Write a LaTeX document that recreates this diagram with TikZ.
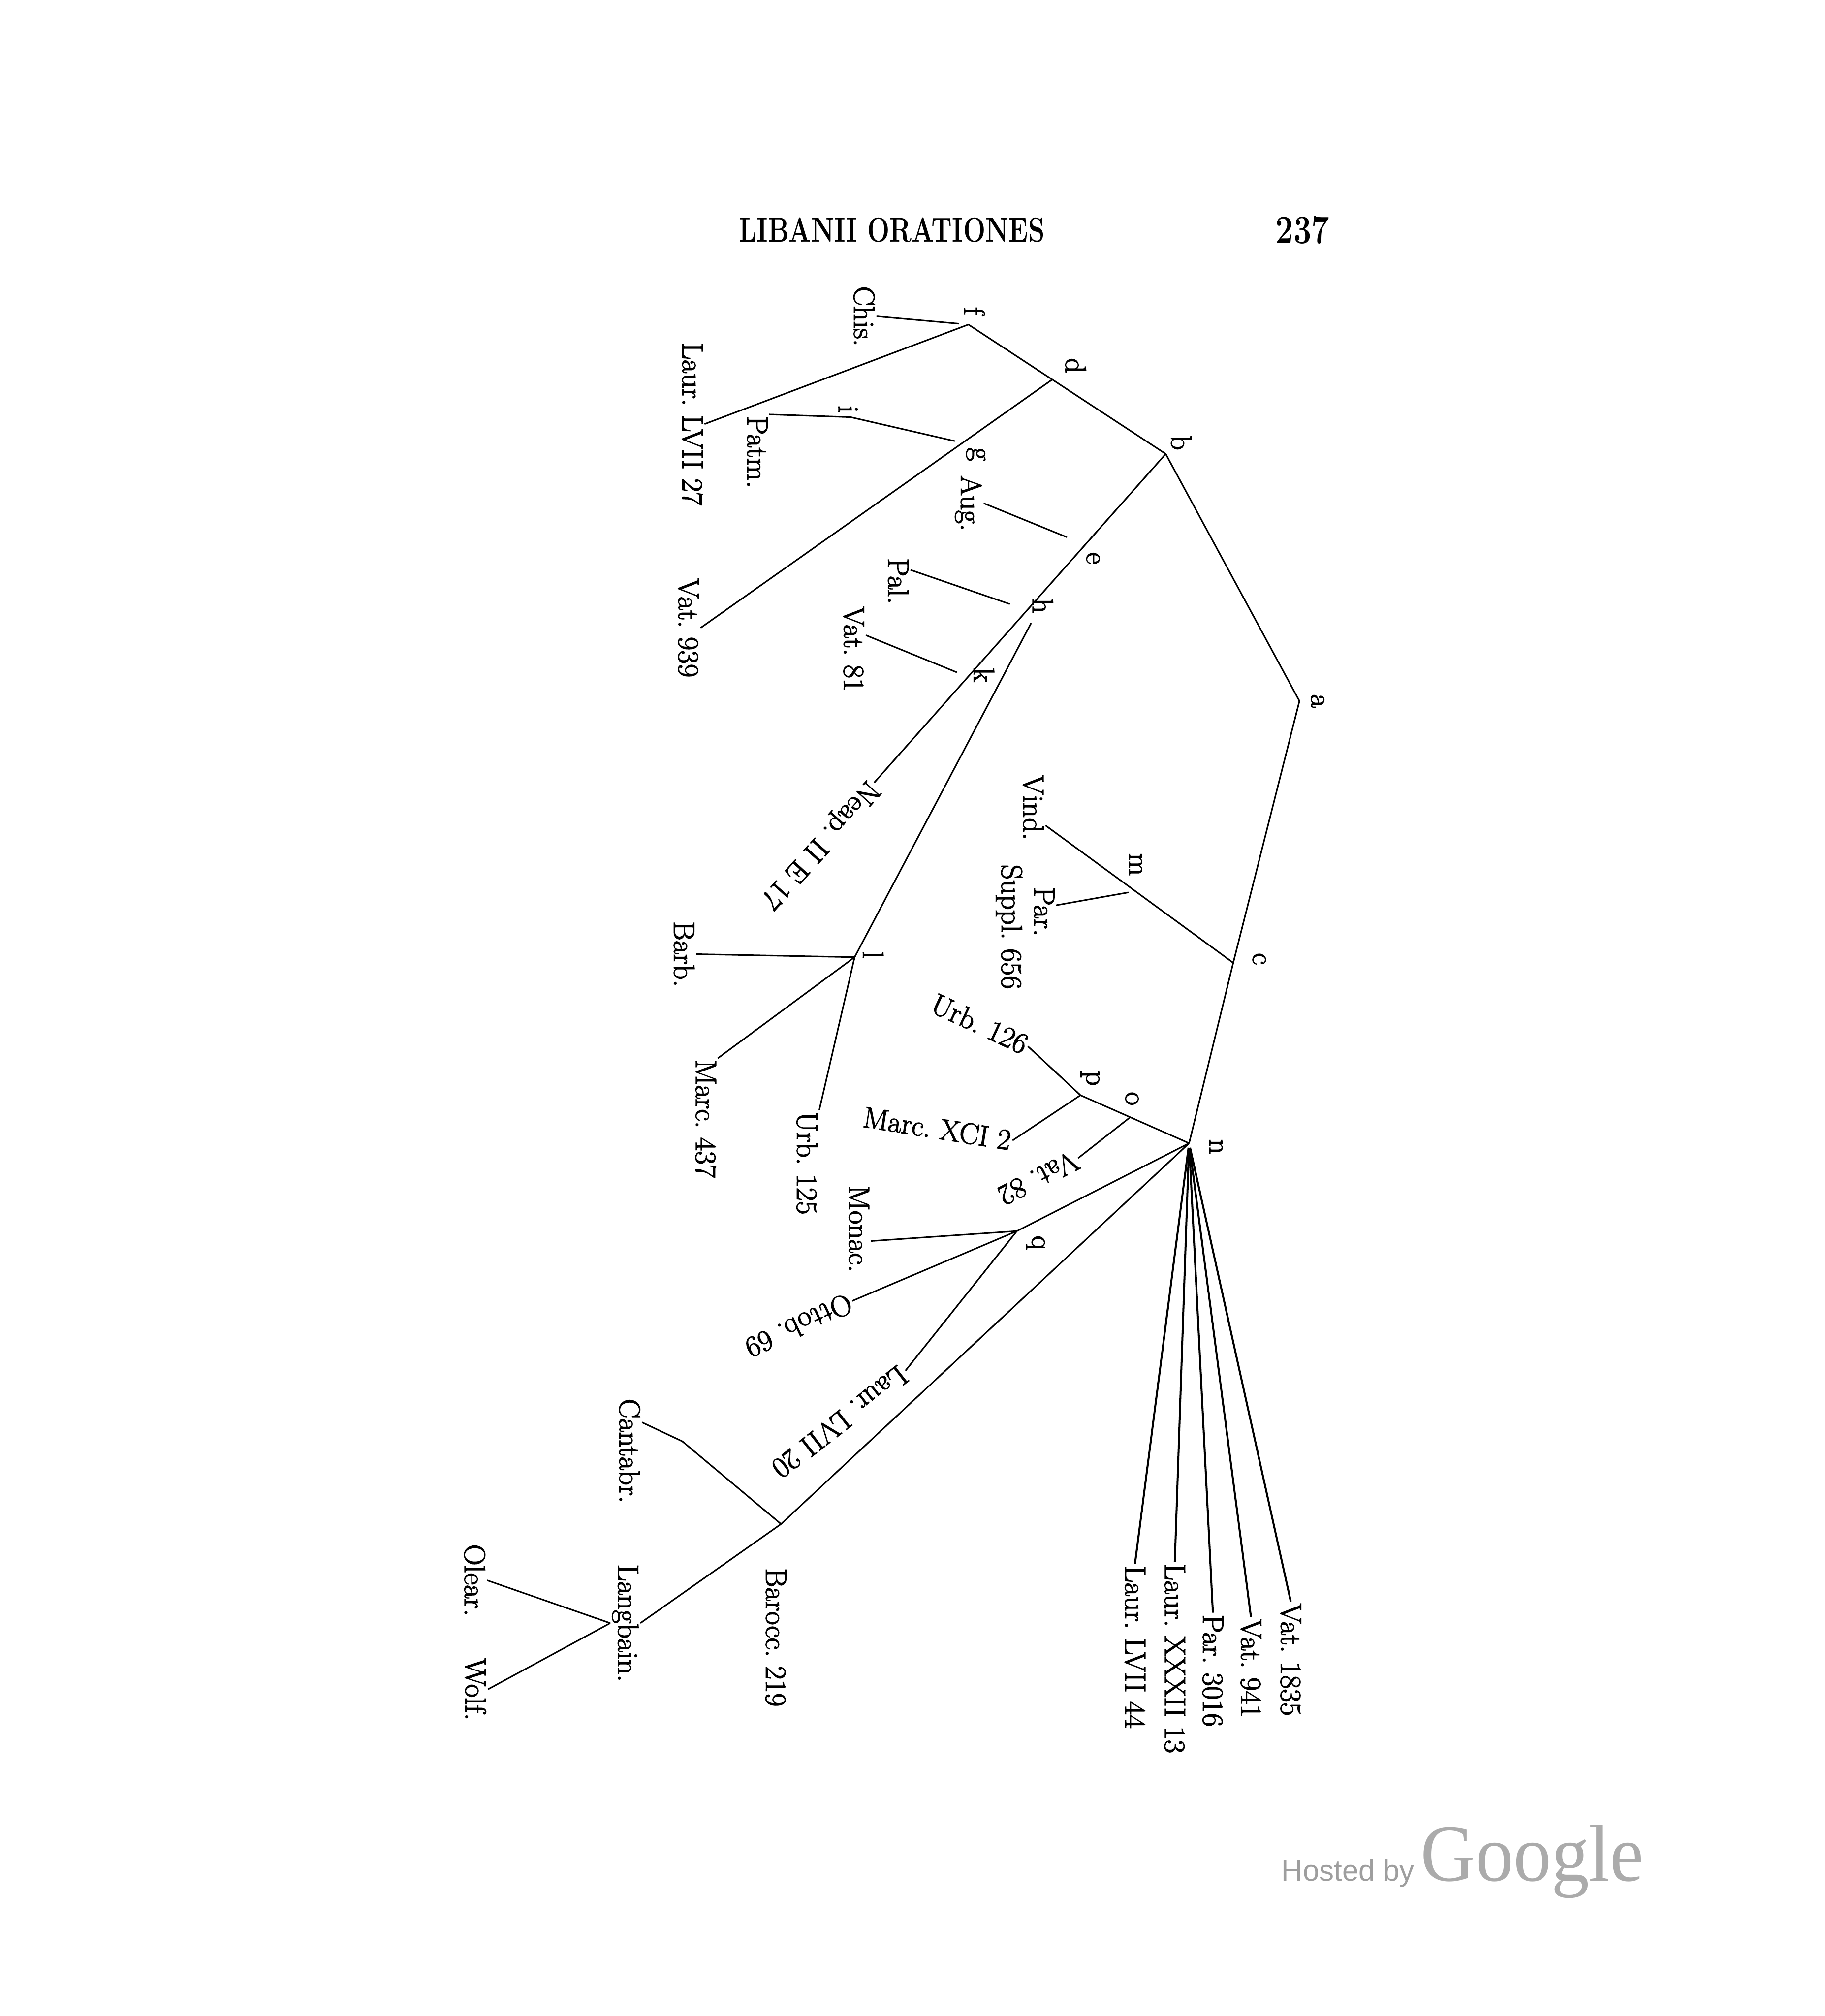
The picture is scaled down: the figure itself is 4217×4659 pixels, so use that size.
\documentclass[tikz,border=0pt]{standalone}
\usepackage{fontspec}
\usepackage{graphicx}
\usetikzlibrary{calc}
\newfontfamily\stemmafont[FakeBold=2.2]{Latin Modern Roman}
\newfontfamily\hostedfont{Liberation Sans}
\newfontfamily\googlefont[FakeStretch=0.94]{Liberation Serif}
\newcommand{\msfont}{\stemmafont\frenchspacing\fontsize{19.4}{23}\selectfont}
\tikzset{
    ms/.style={rotate=-90, font=\msfont, inner sep=1pt},
    hyp/.style={rotate=-90, font=\msfont, inner sep=0pt},
    slant/.style={font=\msfont, inner sep=1pt},
    stem/.style={line width=1pt},
    fan/.style={line width=1.3pt, shorten <=3pt}
}

\begin{document}
\begin{tikzpicture}[x=0.1mm, y=-0.1mm]
\useasboundingbox (0, 0) rectangle (4217, 4659);
% running head
\node[font=\bfseries\fontsize{22.8}{26}\selectfont] (head) at (2061, 531) {\scalebox{0.76}[1]{LIBANII ORATIONES}};
\node[font=\bfseries\fontsize{26.5}{30}\selectfont] (pageno) at (3010, 532) {\scalebox{0.79}[1]{237}};

% manuscripts
\node[ms] (chis) at (1997, 731) {Chis.};
\node[ms] (laurlviiA) at (1600, 980) {Laur. LVII 27};
\node[ms] (patm) at (1750, 1045) {Patm.};
\node[ms] (vat939) at (1591, 1451) {Vat. 939};
\node[ms] (aug) at (2238, 1163) {Aug.};
\node[ms] (pal) at (2076, 1343) {Pal.};
\node[ms] (vat81) at (1973, 1500) {Vat. 81};
\node[slant, rotate=228] (neap) at (1893, 1950) {Neap. II E 17};
\node[ms] (vind) at (2388, 1866) {Vind.};
\node[ms] (par) at (2413, 2107) {Par.};
\node[ms] (suppl) at (2332, 2142) {Suppl. 656};
\node[ms] (barb) at (1581, 2205) {Barb.};
\node[ms] (marc437) at (1631, 2586) {Marc. 437};
\node[ms] (urb125) at (1865, 2688) {Urb. 125};
\node[slant, rotate=-25] (urb126) at (2264, 2366) {Urb. 126};
\node[slant, rotate=-9] (marcxci) at (2166, 2608) {Marc. XCI 2};
\node[slant, rotate=207] (vat82) at (2400, 2723) {Vat. 82};
\node[ms] (monac) at (1985, 2840) {Monac.};
\node[slant, rotate=205] (ottob) at (1846, 3064) {Ottob. 69};
\node[slant, rotate=218] (laurlviiB) at (1941, 3286) {Laur. LVII 20};
\node[ms] (cantabr) at (1455, 3353) {Cantabr.};
\node[ms] (barocc) at (1793, 3784) {Barocc. 219};
\node[ms] (langbain) at (1445, 3751) {Langbain.};
\node[ms] (olear) at (1097, 3652) {Olear.};
\node[ms] (wolf) at (1099, 3904) {Wolf.};
\node[ms, anchor=west] (laurlviiC) at (2623, 3614) {Laur. LVII 44};
\node[ms, anchor=west] (laurxxxii) at (2715, 3609) {Laur. XXXII 13};
\node[ms, anchor=west] (parB) at (2803, 3727) {Par. 3016};
\node[ms, anchor=west] (vat941) at (2891, 3737) {Vat. 941};
\node[ms, anchor=west] (vat1835) at (2983, 3701) {Vat. 1835};

% lost copies
\node[hyp] (f) at (2252, 719) {f};
\node[hyp] (d) at (2486, 845) {d};
\node[hyp] (b) at (2730, 1023) {b};
\node[hyp] (i) at (1960, 946) {i};
\node[hyp] (g) at (2255, 1050) {g};
\node[hyp] (e) at (2526, 1290) {e};
\node[hyp] (h) at (2410, 1400) {h};
\node[hyp] (k) at (2274, 1560) {k};
\node[hyp] (a) at (3045, 1620) {a};
\node[hyp] (m) at (2624, 1998) {m};
\node[hyp] (l) at (2018, 2207) {l};
\node[hyp] (c) at (2910, 2216) {c};
\node[hyp] (p) at (2519, 2492) {p};
\node[hyp] (o) at (2616, 2539) {o};
\node[hyp] (n) at (2810, 2650) {n};
\node[hyp] (q) at (2393, 2872) {q};

% branching points
\coordinate (jf) at (2238, 750);
\coordinate (jb) at (2694, 1049);
\coordinate (ja) at (3003, 1620);
\coordinate (jc) at (2850, 2225);
\coordinate (jn) at (2748, 2642);
\coordinate (ji) at (1966, 964);
\coordinate (jhb) at (2383, 1440);
\coordinate (jl) at (1975, 2212);
\coordinate (jp) at (2497, 2531);
\coordinate (jq) at (2350, 2845);
\coordinate (jr) at (1805, 3522);
\coordinate (jck) at (1577, 3331);
\coordinate (jd) at ($(jf)!0.425!(jb)$);
\coordinate (jg) at ($(jd)!0.255!(vat939.north)$);
\coordinate (je) at ($(jb)!0.276!(neap.west)$);
\coordinate (jh) at ($(jb)!0.47!(neap.west)$);
\coordinate (jk) at ($(jb)!0.674!(neap.west)$);
\coordinate (vindx) at ($(vind.north east)+(0,-38)$);
\coordinate (jm) at ($(vindx)!0.475!(jc)$);
\coordinate (jo) at ($(jp)!0.458!(jn)$);

\draw[stem]
    (chis.north) -- ($(chis.north)!0.9!(jf)$)
    (laurlviiA.north) -- (jf)
    (jf) -- (jb)
    (jd) -- (vat939.north)
    (patm.north west) -- (ji) -- ($(ji)!0.93!(jg)$)
    (aug.north) -- ($(aug.north)!0.82!(je)$)
    (jb) -- (neap.west)
    ($(pal.north)+(0,-26)$) -- ($(pal.north)!0.84!(jh)$)
    ($(vat81.north)+(0,-32)$) -- ($(vat81.north)!0.88!(jk)$)
    (jhb) -- (jl)
    (barb.north) -- (jl)
    (jl) -- (marc437.north west)
    (jl) -- (urb125.north west)
    (jb) -- (ja) -- (jc)
    (vindx) -- (jc)
    ($(par.north)+(0,-15)$) -- ($(par.north)!0.92!(jm)$)
    (jc) -- (jn)
    (urb126.east) -- (jp)
    (marcxci.east) -- (jp)
    (jp) -- (jn)
    (jo) -- (vat82.west)
    (jn) -- (jq)
    ($(monac.north)+(0,28)$) -- (jq)
    (ottob.west) -- (jq)
    (jq) -- (laurlviiB.west)
    (jn) -- (jr)
    ($(cantabr.north)+(0,-66)$) -- (jck) -- (jr)
    (jr) -- (langbain.north)
    (langbain.south) -- (olear.north)
    (langbain.south) -- (wolf.north);
\foreach \copyname in {laurlviiC, laurxxxii, parB, vat941, vat1835}
    \draw[fan] (jn) -- (\copyname.west);

% watermark
\node[anchor=base west, text=black!38, inner sep=0pt, font=\hostedfont\fontsize{19.4}{22}\selectfont] (hosted) at (2961, 4347) {Hosted by};
\node[anchor=base west, text=black!33, inner sep=0pt, font=\googlefont\fontsize{53}{60}\selectfont] (google) at (3283, 4347) {Google};
\end{tikzpicture}
\end{document}
